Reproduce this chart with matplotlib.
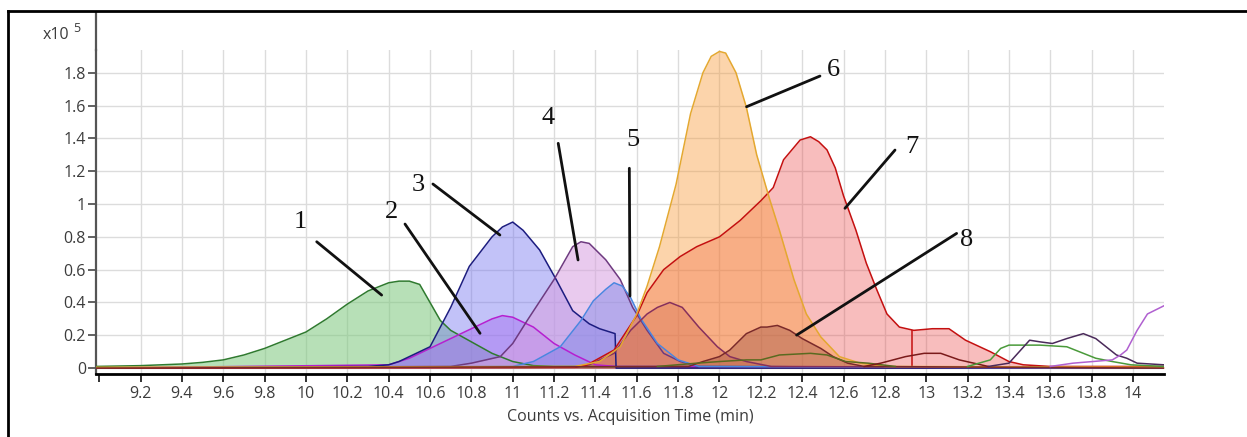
import matplotlib
matplotlib.use("Agg")
import matplotlib.pyplot as plt
from matplotlib.lines import Line2D

# ---------------- data ----------------
# peak 1 (green)
p1_x = [8.98, 9.2, 9.4, 9.5, 9.6, 9.7, 9.8, 9.9, 10.0, 10.1, 10.2, 10.3, 10.4, 10.45, 10.5, 10.55, 10.6, 10.65, 10.7, 10.8, 10.9, 11.0, 11.1, 11.2, 14.15]
p1_y = [0.01, 0.015, 0.025, 0.035, 0.05, 0.08, 0.12, 0.17, 0.22, 0.30, 0.39, 0.47, 0.52, 0.53, 0.53, 0.51, 0.40, 0.29, 0.23, 0.16, 0.09, 0.04, 0.015, 0.01, 0.005]
# peak 2 (magenta)
p2_x = [8.98, 10.4, 10.5, 10.6, 10.7, 10.8, 10.9, 10.95, 11.0, 11.1, 11.2, 11.3, 11.4, 11.5, 14.15]
p2_y = [0.0, 0.02, 0.06, 0.12, 0.18, 0.24, 0.30, 0.32, 0.31, 0.25, 0.15, 0.08, 0.02, 0.01, 0.0]
# peak 3 (navy)
p3_x = [8.98, 10.3, 10.4, 10.45, 10.5, 10.6, 10.7, 10.79, 10.9, 10.95, 11.0, 11.05, 11.13, 11.21, 11.29, 11.37, 11.42, 11.495, 11.5, 14.15]
p3_y = [0.0, 0.01, 0.02, 0.04, 0.07, 0.13, 0.37, 0.62, 0.80, 0.86, 0.89, 0.84, 0.72, 0.54, 0.35, 0.27, 0.24, 0.21, 0.0, 0.0]
# peak 4 (purple)
p4_x = [8.98, 10.7, 10.8, 10.94, 11.0, 11.07, 11.2, 11.29, 11.33, 11.37, 11.45, 11.52, 11.58, 11.65, 11.73, 11.81, 11.9, 14.15]
p4_y = [0.0, 0.01, 0.03, 0.07, 0.15, 0.29, 0.54, 0.74, 0.77, 0.76, 0.66, 0.54, 0.37, 0.23, 0.09, 0.04, 0.01, 0.0]
# peak 5 (light blue)
p5_x = [8.98, 11.0, 11.1, 11.23, 11.33, 11.39, 11.45, 11.49, 11.53, 11.57, 11.62, 11.7, 11.8, 11.9, 14.15]
p5_y = [0.0, 0.01, 0.04, 0.13, 0.29, 0.41, 0.48, 0.52, 0.50, 0.43, 0.30, 0.15, 0.05, 0.01, 0.0]
# unlabelled peak near 11.8 (mauve)
pm_x = [8.98, 11.3, 11.37, 11.49, 11.57, 11.65, 11.7, 11.76, 11.82, 11.9, 11.99, 12.05, 12.13, 12.25, 14.15]
pm_y = [0.0, 0.005, 0.02, 0.09, 0.23, 0.33, 0.37, 0.40, 0.37, 0.25, 0.13, 0.07, 0.04, 0.01, 0.0]
# peak 6 (orange)
p6_x = [8.98, 11.3, 11.42, 11.52, 11.6, 11.65, 11.71, 11.79, 11.86, 11.92, 11.96, 12.0, 12.03, 12.08, 12.13, 12.18, 12.24, 12.29, 12.36, 12.42, 12.49, 12.58, 12.68, 12.8, 14.15]
p6_y = [0.005, 0.01, 0.04, 0.13, 0.33, 0.50, 0.74, 1.12, 1.55, 1.80, 1.90, 1.93, 1.92, 1.80, 1.59, 1.30, 1.04, 0.84, 0.54, 0.33, 0.19, 0.07, 0.03, 0.01, 0.005]
# peak 7 (red)
p7_x = [8.98, 11.3, 11.36, 11.49, 11.6, 11.65, 11.73, 11.81, 11.89, 12.0, 12.1, 12.2, 12.26, 12.31, 12.39, 12.44, 12.48, 12.52, 12.56, 12.6, 12.66, 12.71, 12.76, 12.81, 12.87, 12.94, 13.03, 13.11, 13.19, 13.31, 13.4, 13.47, 13.6, 14.15]
p7_y = [0.0, 0.005, 0.02, 0.11, 0.32, 0.46, 0.60, 0.68, 0.74, 0.80, 0.90, 1.02, 1.10, 1.27, 1.39, 1.41, 1.38, 1.33, 1.22, 1.05, 0.84, 0.64, 0.48, 0.33, 0.25, 0.23, 0.24, 0.24, 0.17, 0.10, 0.04, 0.02, 0.01, 0.01]
p7_step_x = 12.93
p7_step_top = 0.23
# peak 8 (brown)
p8_x = [8.98, 11.85, 11.92, 12.0, 12.05, 12.13, 12.2, 12.23, 12.28, 12.34, 12.4, 12.49, 12.55, 12.62, 12.7, 14.15]
p8_y = [0.0, 0.01, 0.04, 0.07, 0.11, 0.21, 0.25, 0.25, 0.26, 0.23, 0.18, 0.12, 0.07, 0.03, 0.01, 0.0]
# minor traces
olive_x = [11.7, 11.89, 12.0, 12.13, 12.2, 12.29, 12.44, 12.52, 12.61, 12.72, 12.85]
olive_y = [0.01, 0.03, 0.04, 0.05, 0.05, 0.08, 0.09, 0.08, 0.04, 0.03, 0.01]
bump_x = [12.7, 12.78, 12.9, 12.99, 13.07, 13.16, 13.23, 13.3]
bump_y = [0.01, 0.03, 0.07, 0.09, 0.09, 0.05, 0.03, 0.01]
tailg_x = [13.2, 13.31, 13.36, 13.4, 13.45, 13.55, 13.68, 13.74, 13.82, 13.9, 13.99, 14.15]
tailg_y = [0.01, 0.05, 0.12, 0.14, 0.14, 0.14, 0.13, 0.10, 0.06, 0.04, 0.02, 0.01]
tailp_x = [13.3, 13.4, 13.45, 13.5, 13.55, 13.61, 13.68, 13.76, 13.82, 13.87, 13.92, 13.97, 14.02, 14.15]
tailp_y = [0.01, 0.03, 0.10, 0.17, 0.16, 0.15, 0.18, 0.21, 0.18, 0.13, 0.08, 0.06, 0.03, 0.02]
tailv_x = [13.6, 13.71, 13.9, 13.94, 13.97, 14.02, 14.07, 14.15]
tailv_y = [0.01, 0.03, 0.05, 0.08, 0.11, 0.23, 0.33, 0.38]

x_ticks = [9.0, 9.2, 9.4, 9.6, 9.8, 10.0, 10.2, 10.4, 10.6, 10.8, 11.0, 11.2, 11.4, 11.6, 11.8, 12.0,
           12.2, 12.4, 12.6, 12.8, 13.0, 13.2, 13.4, 13.6, 13.8, 14.0]
x_tick_labels = ["", "9.2", "9.4", "9.6", "9.8", "10", "10.2", "10.4", "10.6", "10.8", "11", "11.2", "11.4",
                 "11.6", "11.8", "12", "12.2", "12.4", "12.6", "12.8", "13", "13.2", "13.4", "13.6", "13.8", "14"]
y_ticks = [0, 0.2, 0.4, 0.6, 0.8, 1.0, 1.2, 1.4, 1.6, 1.8]
y_tick_labels = ["0", "0.2", "0.4", "0.6", "0.8", "1", "1.2", "1.4", "1.6", "1.8"]
x_label = "Counts vs. Acquisition Time (min)"
peak_labels = ["1", "2", "3", "4", "5", "6", "7", "8"]

# ---------------- figure ----------------
W, H = 1247, 437
fig = plt.figure(figsize=(W / 100, H / 100), dpi=100)
ax = fig.add_axes([95.7 / W, 1 - 374 / H, (1164 - 95.7) / W, (374 - 49.8) / H])
ax.set_xlim(8.983, 14.15)
ax.set_ylim(-0.036, 1.94)

# grid
ax.set_xticks(x_ticks)
ax.set_xticklabels(x_tick_labels)
ax.set_yticks(y_ticks)
ax.set_yticklabels(y_tick_labels)
ax.grid(True, color="#dcdcdc", linewidth=1.0, zorder=0)
ax.set_axisbelow(True)

series = [
    (p1_x, p1_y, "#2f7a2f", "#7cc87c", 0.55),
    (p2_x, p2_y, "#b61fd0", "#c860f0", 0.45),
    (p3_x, p3_y, "#1c1c80", "#7878f0", 0.45),
    (p4_x, p4_y, "#6e3a80", "#d8a0e0", 0.55),
    (p5_x, p5_y, "#4a86e0", "#6a7ce8", 0.40),
    (pm_x, pm_y, "#86305c", "#a04868", 0.35),
    (p7_x, p7_y, "#c41010", "#ec4848", 0.36),
    (p6_x, p6_y, "#e4a830", "#f89a38", 0.42),
    (p8_x, p8_y, "#7a2a2a", "#a05040", 0.40),
]
for i, (xs, ys, lc, fc, a) in enumerate(series):
    ax.fill_between(xs, 0, ys, color=fc, alpha=a, linewidth=0, zorder=2 + i * 0.01)
for i, (xs, ys, lc, fc, a) in enumerate(series):
    ax.plot(xs, ys, color=lc, linewidth=1.1, zorder=3 + i * 0.01)

ax.vlines(p7_step_x, 0, p7_step_top, color="#c41010", linewidth=1.1, zorder=3)
ax.plot(olive_x, olive_y, color="#5a6a20", linewidth=1.1, zorder=3.2)
ax.plot(bump_x, bump_y, color="#7a1a1a", linewidth=1.1, zorder=3.2)
ax.plot(tailg_x, tailg_y, color="#4a9a3a", linewidth=1.1, zorder=3.2)
ax.plot(tailp_x, tailp_y, color="#4a2a5a", linewidth=1.1, zorder=3.25)
ax.plot(tailv_x, tailv_y, color="#b060d0", linewidth=1.1, zorder=3.3)

# spines & ticks
for s in ("top", "right"):
    ax.spines[s].set_visible(False)
ax.spines["bottom"].set_color("black")
ax.spines["bottom"].set_linewidth(2.0)
ax.spines["left"].set_color("#555555")
ax.spines["left"].set_linewidth(1.6)
ax.add_line(Line2D([0, 0], [1, 1.1135], transform=ax.transAxes, color="#555555",
                   linewidth=1.6, clip_on=False))
ax.tick_params(axis="x", direction="out", length=6, width=1.3, color="#222222",
               pad=3, labelsize=11.5, labelcolor="#3c3c3c")
ax.tick_params(axis="y", direction="out", length=6, width=1.3, color="#555555",
               pad=1, labelsize=11.5, labelcolor="#3c3c3c")
for lab in ax.get_xticklabels() + ax.get_yticklabels():
    lab.set_fontfamily("Open Sans")
ax.xaxis.get_gridlines()[0].set_visible(False)
ax.set_xlabel(x_label, fontsize=11.5, color="#3c3c3c", family="Open Sans", labelpad=5)

fig.text(56 / W, 1 - 35 / H, "x10", fontsize=11.5, color="#3c3c3c", family="Open Sans",
         ha="center", va="center")
fig.text(77 / W, 1 - 28 / H, "5", fontsize=9, color="#3c3c3c", family="Open Sans",
         ha="center", va="center")

# peak annotations (text position, leader start, leader end) in data units
ann = [
    ((9.971, 0.892), (10.052, 0.770), (10.366, 0.445)),
    ((10.416, 0.951), (10.479, 0.878), (10.842, 0.212)),
    ((10.543, 1.116), (10.614, 1.122), (10.938, 0.811)),
    ((11.172, 1.523), (11.220, 1.370), (11.316, 0.659)),
    ((11.583, 1.390), (11.564, 1.218), (11.567, 0.439)),
    ((12.550, 1.817), (12.486, 1.780), (12.131, 1.593)),
    ((12.930, 1.349), (12.849, 1.329), (12.607, 0.974)),
    ((13.196, 0.780), (13.147, 0.821), (12.373, 0.201)),
]
for lab, (tp, ls, le) in zip(peak_labels, ann):
    ax.text(tp[0], tp[1], lab, fontsize=19, family="Liberation Serif", ha="center",
            va="center", color="#111111", zorder=10)
    ax.plot([ls[0], le[0]], [ls[1], le[1]], color="#111111", linewidth=2.0,
            solid_capstyle="round", zorder=10)

# outer frame (left and top edges visible)
fig.add_artist(Line2D([8 / W, 8 / W], [0, 1 - 11 / H], color="black", linewidth=2.0,
                      transform=fig.transFigure))
fig.add_artist(Line2D([8 / W, 1], [1 - 11 / H, 1 - 11 / H], color="black", linewidth=2.0,
                      transform=fig.transFigure))

fig.savefig("out.png", dpi=100)
